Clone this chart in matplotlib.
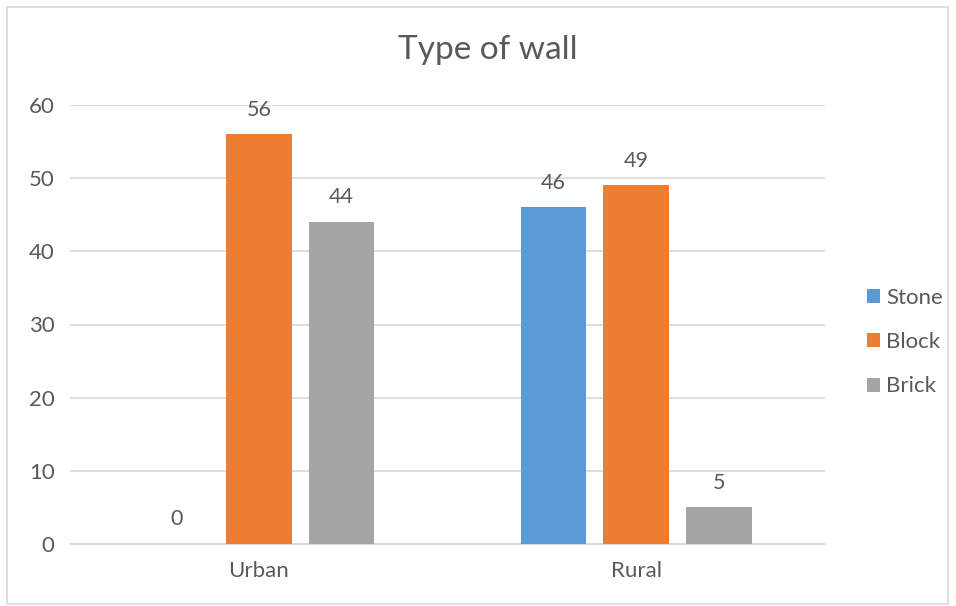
import matplotlib.pyplot as plt
import numpy as np
from matplotlib.patches import Rectangle

plt.rcParams['font.family'] = ['Lato', 'DejaVu Sans']

categories = ['Urban', 'Rural']
series = ['Stone', 'Block', 'Brick']
stone = [0, 46]
block = [56, 49]
brick = [44, 5]
colors = ['#5B9BD5', '#ED7D31', '#A5A5A5']
text_col = '#595959'

fig = plt.figure(figsize=(9.56, 6.06), dpi=100)
fig.patches.append(Rectangle((7 / 956, 2 / 606), 941 / 956, 597 / 606,
                             transform=fig.transFigure, fill=False,
                             edgecolor='#D9D9D9', linewidth=1.2))
ax = fig.add_axes([70 / 956, 62 / 606, 755 / 956, 439 / 606])

x = np.arange(len(categories))
width = 0.174
step = 0.219
for i, (name, vals) in enumerate(zip(series, [stone, block, brick])):
    bars = ax.bar(x + (i - 1) * step, vals, width, color=colors[i], label=name, zorder=3)
    for b, v in zip(bars, vals):
        ax.text(b.get_x() + b.get_width() / 2, v + 2.0, str(v), ha='center', va='bottom',
                fontsize=15.5, color=text_col)

ax.set_xlim(-0.5, 1.5)
ax.set_ylim(0, 60)
ax.set_yticks(range(0, 61, 10))
ax.set_xticks(x)
ax.set_xticklabels(categories)
ax.tick_params(axis='both', length=0, labelsize=16, labelcolor=text_col)
ax.tick_params(axis='y', pad=11)
ax.tick_params(axis='x', pad=12)
ax.grid(axis='y', color='#D9D9D9', linewidth=1.2, zorder=0)
for s in ['top', 'right', 'left']:
    ax.spines[s].set_visible(False)
ax.spines['bottom'].set_color('#D9D9D9')
ax.spines['bottom'].set_linewidth(1.2)

fig.text(488 / 956, 1 - 50 / 606, 'Type of wall', ha='center', va='center',
         fontsize=24, color=text_col)

fig.legend(loc='center left', bbox_to_anchor=(847 / 956, 1 - 342 / 606), frameon=False,
           fontsize=16, labelcolor=text_col, handlelength=0.6, handleheight=0.6,
           handletextpad=0.25, labelspacing=1.1)

fig.savefig('out.png', dpi=100)
